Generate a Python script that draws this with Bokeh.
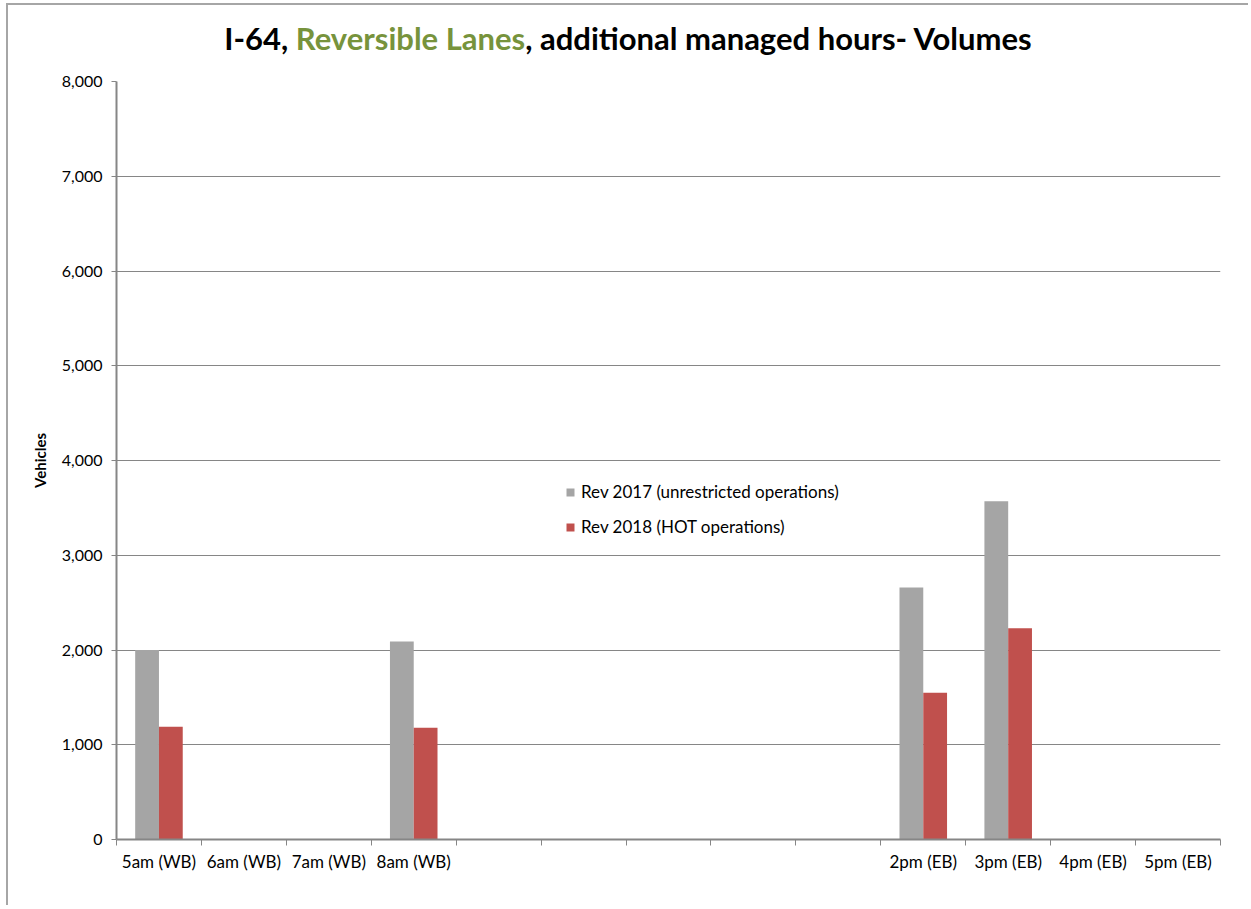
from bokeh.plotting import figure
from bokeh.layouts import column
from bokeh.models import (Range1d, FixedTicker, NumeralTickFormatter, Legend, LegendItem,
                          ColumnDataSource, Div)
from bokeh.transform import dodge
from bokeh.embed import file_html
from bokeh.resources import INLINE

# ---- data ----
categories = ["5am (WB)", "6am (WB)", "7am (WB)", "8am (WB)",
              "", "", "", "", "",
              "2pm (EB)", "3pm (EB)", "4pm (EB)", "5pm (EB)"]
rev2017 = [2000, None, None, 2090, None, None, None, None, None, 2660, 3570, None, None]
rev2018 = [1190, None, None, 1180, None, None, None, None, None, 1550, 2230, None, None]
series_names = ["Rev 2017 (unrestricted operations)", "Rev 2018 (HOT operations)"]
y_ticks = [0, 1000, 2000, 3000, 4000, 5000, 6000, 7000, 8000]
title_parts = ["I-64, ", "Reversible Lanes", ", additional managed hours- Volumes"]

def clean(v):
    return [float("nan") if x is None else x for x in v]

n = len(categories)
centers = [i + 0.5 for i in range(n)]
src = ColumnDataSource(dict(xc=centers, a=clean(rev2017), b=clean(rev2018)))

FONT = "Lato"
AX = "#868686"
TITLE_H = 62

title = Div(text=(f'<span>{title_parts[0]}</span>'
                  f'<span style="color:#77933C">{title_parts[1]}</span>'
                  f'<span>{title_parts[2]}</span>'),
            width=1240, height=TITLE_H, margin=0,
            styles={"font-family": "Lato", "font-weight": "bold", "font-size": "31px",
                    "line-height": "31px", "text-align": "center", "padding-top": "18px",
                    "color": "#000000", "white-space": "nowrap", "box-sizing": "border-box",
                    "width": "1240px"})

p = figure(width=1240, height=900 - TITLE_H, x_range=Range1d(0, n), y_range=Range1d(0, 8000),
           output_backend="svg", toolbar_location=None,
           min_border_left=108, min_border_right=28, min_border_top=81 - 5 - TITLE_H,
           min_border_bottom=66)
p.margin = 0
p.outline_line_color = None
p.background_fill_color = "white"
p.border_fill_color = "white"

# bars
r1 = p.vbar(x=dodge("xc", -0.14), top="a", width=0.28, source=src,
            fill_color="#A5A5A5", line_color=None)
r2 = p.vbar(x=dodge("xc", 0.14), top="b", width=0.28, source=src,
            fill_color="#C0504D", line_color=None)

# y axis
ya = p.yaxis[0]
ya.ticker = FixedTicker(ticks=y_ticks)
ya.formatter = NumeralTickFormatter(format="0,0")
ya.axis_line_color = AX
ya.axis_line_width = 2
ya.major_tick_line_color = AX
ya.major_tick_out = 5
ya.major_tick_in = 0
ya.minor_tick_line_color = None
ya.major_label_text_font = FONT
ya.major_label_text_font_size = "16px"
ya.major_label_text_color = "#000000"
ya.major_label_standoff = 9
ya.axis_label = "Vehicles"
ya.axis_label_text_font = FONT
ya.axis_label_text_font_style = "bold"
ya.axis_label_text_font_size = "15px"
ya.axis_label_text_color = "#000000"
ya.axis_label_standoff = 10

p.ygrid.ticker = FixedTicker(ticks=y_ticks)
p.ygrid.grid_line_color = AX
p.ygrid.grid_line_width = 1
p.xgrid.grid_line_color = None

# x axis: labels at category centres, tick marks at category boundaries
xa = p.xaxis[0]
xa.ticker = FixedTicker(ticks=centers, minor_ticks=list(range(n + 1)))
xa.major_label_overrides = {c: lab for c, lab in zip(centers, categories)}
xa.axis_line_color = AX
xa.axis_line_width = 2
xa.major_tick_line_color = None
xa.minor_tick_line_color = AX
xa.minor_tick_line_width = 1
xa.minor_tick_out = 6
xa.minor_tick_in = 0
xa.major_label_text_font = FONT
xa.major_label_text_font_size = "17px"
xa.major_label_text_color = "#000000"
xa.major_label_standoff = 5

# legend
legend = Legend(items=[LegendItem(label=series_names[0], renderers=[r1]),
                       LegendItem(label=series_names[1], renderers=[r2])],
                location=(449, 302), orientation="vertical")
legend.border_line_color = None
legend.background_fill_alpha = 0
legend.padding = 0
legend.margin = 0
legend.spacing = 14
legend.glyph_width = 10
legend.glyph_height = 10
legend.label_height = 20
legend.label_standoff = 6
legend.label_text_font = FONT
legend.label_text_font_size = "17px"
legend.label_text_color = "#000000"
p.add_layout(legend, "center")

layout = column(title, p, spacing=0, margin=0,
                styles={"border-left": "2px solid #A6A6A6", "border-top": "2px solid #A6A6A6",
                        "margin-left": "6px", "margin-top": "3px", "background": "white"})

open("out.html", "w").write(file_html(layout, INLINE))
